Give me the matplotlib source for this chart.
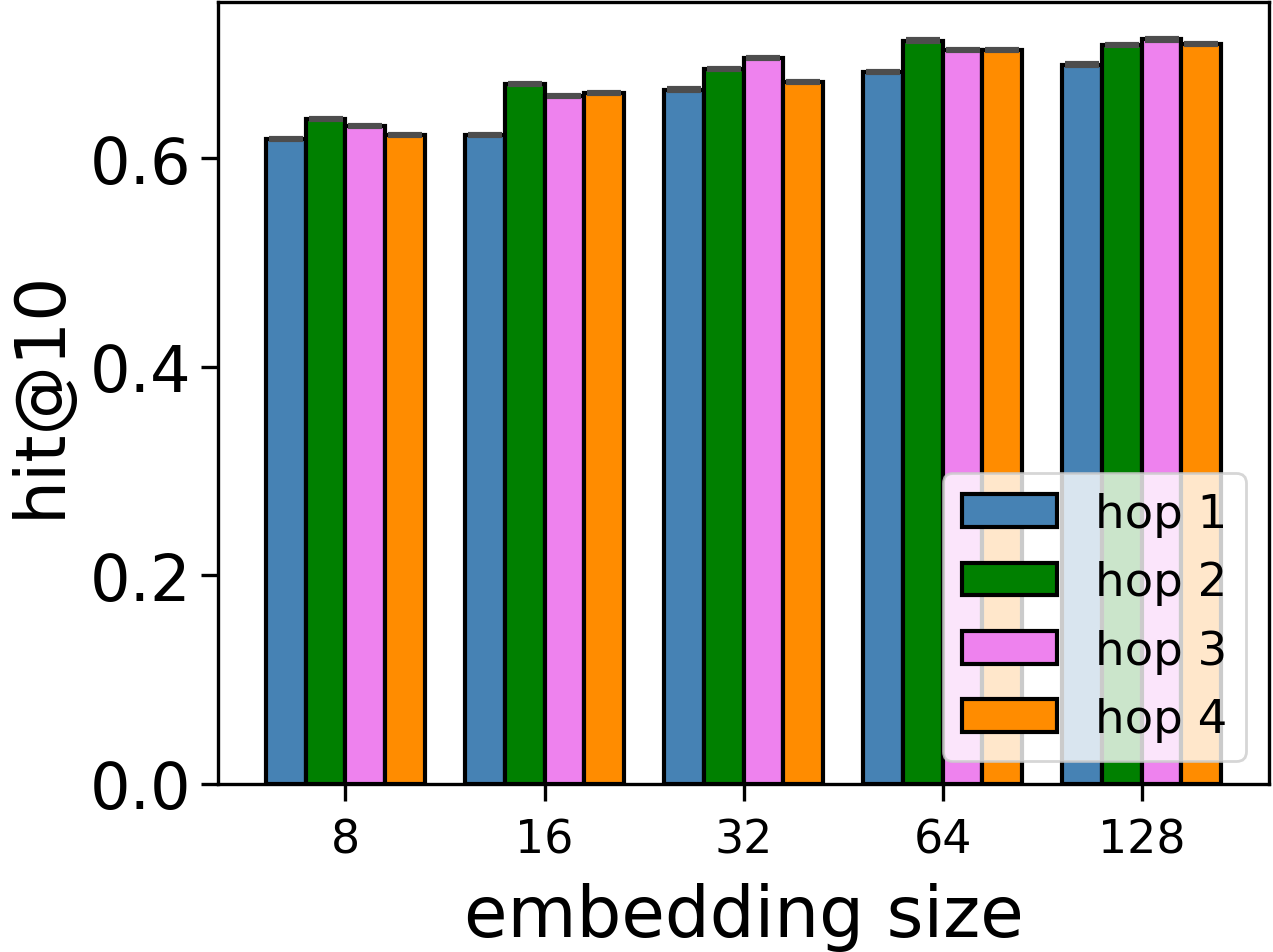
import numpy as np
import matplotlib
matplotlib.use("Agg")
import matplotlib.pyplot as plt

# hit@10 per embedding size for each hop count
sizes = ["8", "16", "32", "64", "128"]
hop_labels = ["hop 1", "hop 2", "hop 3", "hop 4"]
hop1 = [0.619, 0.622, 0.666, 0.683, 0.690]
hop2 = [0.638, 0.671, 0.686, 0.713, 0.709]
hop3 = [0.631, 0.660, 0.696, 0.704, 0.714]
hop4 = [0.622, 0.663, 0.673, 0.704, 0.710]
colors = ["steelblue", "green", "violet", "darkorange"]

series = [hop1, hop2, hop3, hop4]
x = np.arange(len(sizes))
width = 0.2

fig = plt.figure(figsize=(1273 / 200, 953 / 200), dpi=200)
ax = fig.add_axes([0.1713, 0.1763, 0.8256, 0.8206])

for i, (vals, lab, col) in enumerate(zip(series, hop_labels, colors)):
    pos = x + (i - 1.5) * width
    ax.bar(pos, vals, width, color=col, edgecolor="black", linewidth=1.5, label=lab)
    # thin dark cap on top of each bar
    ax.errorbar(pos, vals, yerr=0.001, fmt="none", ecolor="#4d4d4d",
                elinewidth=1.2, capsize=6.2, capthick=1.5)

ax.set_ylim(0, 0.75)
ax.set_yticks([0.0, 0.2, 0.4, 0.6])
ax.set_xticks(x)
ax.set_xticklabels(sizes)
ax.tick_params(axis="y", labelsize=23, width=1.2, length=6)
ax.tick_params(axis="x", labelsize=16.5, width=1.2, length=6, pad=6)
for s in ax.spines.values():
    s.set_linewidth(1.2)

ax.set_xlabel("embedding size", fontsize=25.5, labelpad=7)
ax.set_ylabel("hit@10", fontsize=25, labelpad=6)

ax.legend(loc="lower right", fontsize=16.8, handlelength=2.05)

fig.savefig("out.png", dpi=200)
